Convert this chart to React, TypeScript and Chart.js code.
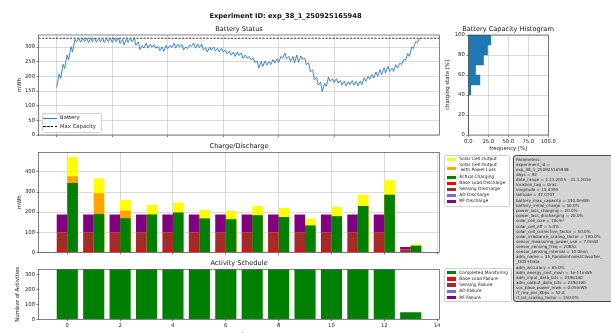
import React, { useEffect, useRef } from 'react';
import { Chart, registerables } from 'chart.js';

Chart.register(...registerables);

const FONT = 'DejaVu Sans';
Chart.defaults.font.family = FONT;

// ---------------- data ----------------
const experimentId = 'exp_38_1_250925165948';
const maxCapacity = 330;

// battery level, one morning low and one afternoon high per day (mWh)
const batteryMorning = [
  162, 193, 227, 256, 284, 318, 316, 318, 315, 318,
  316, 318, 315, 318, 316, 318, 312, 307, 316, 318,
  306, 291, 296, 296, 300, 296, 288, 285, 294, 298,
  296, 300, 290, 295, 302, 296, 298, 290, 283, 290,
  287, 283, 283, 277, 272, 268, 271, 262, 262, 257,
  248, 228, 234, 238, 240, 245, 247, 262, 260, 251,
  246, 248, 258, 240, 216, 188, 170, 148, 166, 183,
  180, 177, 170, 168, 172, 170, 168, 172, 183, 190,
  194, 200, 206, 212, 217, 217, 228, 240, 255, 268,
  295, 315,
];
const batteryAfternoon = [
  208, 241, 273, 301, 326, 330, 330, 330, 330, 330,
  330, 330, 330, 330, 330, 330, 326, 328, 330, 330,
  318, 305, 313, 310, 308, 302, 300, 305, 306, 313,
  310, 308, 300, 307, 313, 310, 310, 298, 300, 300,
  296, 296, 290, 286, 282, 283, 280, 273, 268, 262,
  252, 251, 253, 250, 257, 260, 268, 279, 268, 268,
  273, 270, 262, 246, 222, 196, 180, 176, 197, 192,
  192, 186, 184, 182, 186, 183, 184, 195, 200, 206,
  215, 223, 230, 234, 228, 240, 245, 257, 278, 300,
  319, 330,
];
const batteryDayTicks = [0, 14, 28, 42, 56, 70, 84];
const batteryTicks = [0, 50, 100, 150, 200, 250, 300];

// histogram of charging state
const histBinCenters = [5, 15, 25, 35, 45, 55, 65, 75, 85, 95];
const histFrequency = [0, 0, 0, 0, 3, 14.5, 9, 19, 24, 28];
const histXTicks = [0, 25, 50, 75, 100];
const histYTicks = [0, 20, 40, 60, 80, 100];

// weekly charge / discharge (mWh)
const weeks = [0, 1, 2, 3, 4, 5, 6, 7, 8, 9, 10, 11, 12, 13];
const solarCellOutput = [474, 367, 260, 235, 248, 210, 206, 231, 220, 167, 225, 287, 358, 40];
const solarWithPowerLoss = [379, 294, 208, 188, 198, 168, 165, 185, 176, 134, 180, 230, 286, 32];
const actualCharging = [345, 190, 169, 188, 198, 168, 165, 185, 176, 134, 180, 230, 286, 32];
const baseLoadDischarge = [11, 11, 11, 11, 11, 11, 11, 11, 11, 11, 11, 11, 11, 1.6];
const sensingDischarge = [88.5, 88.5, 88.5, 88.5, 88.5, 88.5, 88.5, 88.5, 88.5, 88.5, 88.5, 88.5, 88.5, 12.6];
const adDischarge = [0, 0, 0, 0, 0, 0, 0, 0, 0, 0, 0, 0, 0, 0];
const rfDischarge = [89, 89, 89, 89, 89, 89, 89, 89, 89, 89, 89, 89, 89, 12.7];
const weekTicks = [0, 2, 4, 6, 8, 10, 12, 14];
const chargeTicks = [0, 100, 200, 300, 400];

// activity schedule
const completedMonitoring = [336, 336, 336, 336, 336, 336, 336, 336, 336, 336, 336, 336, 336, 48];
const baseLoadFailure = [0, 0, 0, 0, 0, 0, 0, 0, 0, 0, 0, 0, 0, 0];
const sensingFailure = [0, 0, 0, 0, 0, 0, 0, 0, 0, 0, 0, 0, 0, 0];
const adFailure = [0, 0, 0, 0, 0, 0, 0, 0, 0, 0, 0, 0, 0, 0];
const rfFailure = [0, 0, 0, 0, 0, 0, 0, 0, 0, 0, 0, 0, 0, 0];
const activityTicks = [0, 100, 200, 300];

const parameterLines = [
  'Parameters:',
  'experiment_id =',
  'exp_38_1_250925165948',
  'days = 92',
  'date_range = 1.11.2015 - 31.1.2016',
  'location_tag = Graz',
  'longitude = 15.4395',
  'latitude = 47.0707',
  'battery_max_capacity = 330.0mWh',
  'battery_initial_charge = 50.0%',
  'power_loss_charging = 20.0%',
  'power_loss_discharging = 20.0%',
  'solar_cell_size = 10cm²',
  'solar_cell_eff = 5.0%',
  'solar_cell_corrective_factor = 50.0%',
  'solar_irradiance_scaling_factor = 100.0%',
  'sensor_measuring_power_use = 7.0mW',
  'sensor_sensing_freq = 20Bhz',
  'sensor_sensing_interval = 10.0min',
  'adm_name = 35_RandomForestClassifier_',
  '_D05+Data',
  'adm_accuracy = 65.0%',
  'adm_energy_cost_mwh = 1e-11mWh',
  'adm_input_data_bits = 2396160',
  'adm_output_data_bits = 2396160',
  'soc_base_power_mwh = 0.05mWh',
  'rf_mw_per_Kbps = 52.8',
  'rf_bit_scaling_factor = 150.0%',
];

// ---------------- styles ----------------
const C = {
  battery: '#2a7abf',
  hist: '#1f77b4',
  solar: '#ffff00',
  solarLoss: '#ffa500',
  charging: '#008000',
  baseLoad: '#ff0000',
  sensing: '#a52a2a',
  ad: '#7b68ee',
  rf: '#800080',
};
const chargeLabels = ['Solar Cell Output', 'Solar Cell Output\n with Power Loss', 'Actual Charging'];
const chargeColors = [C.solar, C.solarLoss, C.charging];
const dischargeLabels = ['Base Load Discharge', 'Sensing Discharge', 'AD Discharge', 'RF Discharge'];
const dischargeColors = [C.baseLoad, C.sensing, C.ad, C.rf];
const activityLabels = ['Completed Monitoring', 'Base Load Failure', 'Sensing Failure', 'AD Failure', 'RF Failure'];
const activityColors = [C.charging, C.baseLoad, C.sensing, C.ad, C.rf];

const CW = 611;
const CH = 345;
const GRID = 'rgba(176,176,176,0.8)';
const SPINE = '#333';
const TICK_FONT = { family: FONT, size: 5.3 };
const LABEL_FONT = { family: FONT, size: 5.4 };
const DAY_MIN = -4.6;
const DAY_MAX = 96.6;
const WEEK_MIN = -1.09;
const WEEK_MAX = 14.09;

const setTicks = (values: number[]) => (scale: any) => {
  scale.ticks = values.map((value) => ({ value }));
};
const fixWidth = (w: number) => (scale: any) => {
  scale.width = w;
};
const fixHeight = (h: number) => (scale: any) => {
  scale.height = h;
};
const gridOpts = (onArea = true) => ({
  display: true,
  drawOnChartArea: onArea,
  color: GRID,
  lineWidth: 0.6,
  drawTicks: true,
  tickLength: 2,
  tickColor: SPINE,
  tickWidth: 0.6,
  offset: false,
});
const tickOpts = (extra: any = {}) => ({ font: TICK_FONT, color: '#222', padding: 1.5, autoSkip: false, maxRotation: 0, ...extra });
const axisTitle = (text: string, padding: any) => ({ display: true, text, font: LABEL_FONT, color: '#1a1a1a', padding });

const framePlugin = {
  id: 'frame',
  afterDraw(chart: any) {
    const { ctx, chartArea: a } = chart;
    ctx.save();
    ctx.strokeStyle = SPINE;
    ctx.lineWidth = 0.6;
    ctx.strokeRect(a.left, a.top, a.right - a.left, a.bottom - a.top);
    ctx.restore();
  },
};

const baseOptions = () => ({
  animation: false,
  responsive: false,
  devicePixelRatio: 1,
  events: [],
  plugins: { legend: { display: false }, tooltip: { enabled: false }, title: { display: false } },
});

function batteryConfig(): any {
  const points: any[] = [];
  batteryMorning.forEach((v, d) => {
    points.push({ x: d, y: v });
    points.push({ x: d + 0.6, y: batteryAfternoon[d] });
  });
  return {
    type: 'line',
    data: {
      datasets: [
        { label: 'Battery', data: points, borderColor: C.battery, borderWidth: 0.9, pointRadius: 0, tension: 0, fill: false },
        {
          label: 'Max Capacity',
          data: [{ x: DAY_MIN, y: maxCapacity }, { x: DAY_MAX, y: maxCapacity }],
          borderColor: '#000',
          borderWidth: 0.8,
          borderDash: [2.2, 1.3],
          pointRadius: 0,
        },
      ],
    },
    options: {
      ...baseOptions(),
      layout: { autoPadding: false, padding: { left: 0, top: 35, right: 171.5, bottom: CH - 135 - 8 } },
      scales: {
        x: {
          type: 'linear', min: DAY_MIN, max: DAY_MAX,
          afterBuildTicks: setTicks(batteryDayTicks), afterFit: fixHeight(8),
          ticks: { display: false }, grid: gridOpts(), border: { display: false },
        },
        y: {
          type: 'linear', min: 0, max: 341,
          afterBuildTicks: setTicks(batteryTicks), afterFit: fixWidth(38.5),
          ticks: tickOpts(), grid: gridOpts(), border: { display: false },
          title: axisTitle('mWh', { top: 16.5, bottom: 0 }),
        },
      },
    },
    plugins: [framePlugin],
  };
}

function histConfig(): any {
  return {
    type: 'bar',
    data: {
      datasets: [{
        label: 'Battery Capacity',
        data: histBinCenters.map((c, i) => ({ y: c, x: histFrequency[i] })),
        backgroundColor: C.hist,
        borderWidth: 0,
      }],
    },
    options: {
      ...baseOptions(),
      indexAxis: 'y',
      datasets: { bar: { categoryPercentage: 1, barPercentage: 1 } },
      layout: { autoPadding: false, padding: { left: 440, top: 35, right: 62.7, bottom: CH - 135 - 20 } },
      scales: {
        x: {
          type: 'linear', min: 0, max: 100,
          afterBuildTicks: setTicks(histXTicks), afterFit: fixHeight(20),
          ticks: tickOpts({ callback: (v: any) => Number(v).toFixed(1) }),
          grid: gridOpts(), border: { display: false },
          title: axisTitle('frequency [%]', { top: 0, bottom: 2.8 }),
        },
        y: {
          type: 'linear', min: 0, max: 100, offset: false,
          afterBuildTicks: setTicks(histYTicks), afterFit: fixWidth(28.3),
          ticks: tickOpts(), grid: gridOpts(), border: { display: false },
          title: axisTitle('charging state [%]', { top: 4.8, bottom: 0 }),
        },
      },
    },
    plugins: [framePlugin],
  };
}

function chargeConfig(): any {
  const cum = weeks.map(() => 0);
  const dischargeSeries = [baseLoadDischarge, sensingDischarge, adDischarge, rfDischarge];
  const dischargeSets = dischargeSeries.map((vals, k) => ({
    label: dischargeLabels[k],
    stack: 'discharge',
    backgroundColor: dischargeColors[k],
    data: weeks.map((w, i) => {
      const a = cum[i];
      cum[i] += vals[i];
      return { x: w, y: [a, cum[i]] };
    }),
  }));
  // charge bars overlap from zero; first listed is drawn on top
  const chargeSeries = [actualCharging, solarWithPowerLoss, solarCellOutput];
  const chargeOrder = [2, 1, 0];
  const chargeSets = chargeSeries.map((vals, k) => ({
    label: chargeLabels[chargeOrder[k]],
    stack: 'charge',
    backgroundColor: chargeColors[chargeOrder[k]],
    data: weeks.map((w, i) => ({ x: w, y: vals[i] })),
  }));
  return {
    type: 'bar',
    data: { datasets: [...dischargeSets, ...chargeSets] },
    options: {
      ...baseOptions(),
      datasets: { bar: { categoryPercentage: 0.8, barPercentage: 1, borderWidth: 0 } },
      layout: { autoPadding: false, padding: { left: 0, top: 152.3, right: 171.5, bottom: CH - 252.3 - 8 } },
      scales: {
        x: {
          type: 'linear', min: WEEK_MIN, max: WEEK_MAX, stacked: true, offset: false,
          afterBuildTicks: setTicks(weekTicks), afterFit: fixHeight(8),
          ticks: { display: false }, grid: gridOpts(), border: { display: false },
        },
        y: {
          type: 'linear', min: 0, max: 497.7, stacked: false,
          afterBuildTicks: setTicks(chargeTicks), afterFit: fixWidth(38.5),
          ticks: tickOpts(), grid: gridOpts(), border: { display: false },
          title: axisTitle('mWh', { top: 16.5, bottom: 0 }),
        },
      },
    },
    plugins: [framePlugin],
  };
}

function activityConfig(): any {
  const series = [completedMonitoring, baseLoadFailure, sensingFailure, adFailure, rfFailure];
  return {
    type: 'bar',
    data: {
      datasets: series.map((vals, k) => ({
        label: activityLabels[k],
        stack: 'activity',
        backgroundColor: activityColors[k],
        data: weeks.map((w, i) => ({ x: w, y: vals[i] })),
      })),
    },
    options: {
      ...baseOptions(),
      datasets: { bar: { categoryPercentage: 0.8, barPercentage: 1, borderWidth: 0 } },
      layout: { autoPadding: false, padding: { left: 0, top: 269.3, right: 171.5, bottom: 0 } },
      scales: {
        x: {
          type: 'linear', min: WEEK_MIN, max: WEEK_MAX, stacked: true, offset: false,
          afterBuildTicks: setTicks(weekTicks), afterFit: fixHeight(CH - 319.3),
          ticks: tickOpts(), grid: gridOpts(false), border: { display: false },
          title: axisTitle('weeks', { top: 0, bottom: 7 }),
        },
        y: {
          type: 'linear', min: 0, max: 336, stacked: true,
          afterBuildTicks: setTicks(activityTicks), afterFit: fixWidth(38.5),
          ticks: tickOpts(), grid: gridOpts(false), border: { display: false },
          title: axisTitle('Number of Activities', { top: 14.5, bottom: 0 }),
        },
      },
    },
    plugins: [framePlugin],
  };
}

// ---------------- html pieces ----------------
function Txt({ x, y, size, weight = 400, children }: any) {
  return (
    <div
      style={{
        position: 'absolute', left: x, top: y, transform: 'translate(-50%, -50%)',
        fontSize: size, fontWeight: weight, color: '#111', whiteSpace: 'nowrap', lineHeight: 1, fontFamily: FONT,
      }}
    >
      {children}
    </div>
  );
}

const legendBox = (left: number, top: number, width: number, height: number): any => ({
  position: 'absolute', left, top, width, height, boxSizing: 'border-box',
  border: '0.6px solid #cfcfcf', borderRadius: 1.5, background: 'rgba(255,255,255,0.85)',
});

function PatchLegend({ labels, colors, rows, box, size }: any) {
  return (
    <>
      <div style={legendBox(box[0], box[1], box[2], box[3])} />
      {labels.map((lab: string, i: number) => (
        <React.Fragment key={lab}>
          <div style={{ position: 'absolute', left: box[0] + 2.7, top: rows[i] - 1.7, width: 9.3, height: 3.4, background: colors[i] }} />
          <div
            style={{
              position: 'absolute', left: box[0] + 15.3, top: rows[i], transform: 'translateY(-50%)',
              fontSize: size, lineHeight: '4.6px', whiteSpace: 'pre', color: '#1a1a1a', fontFamily: FONT,
            }}
          >
            {lab}
          </div>
        </React.Fragment>
      ))}
    </>
  );
}

export default function App() {
  const batteryRef = useRef<HTMLCanvasElement>(null);
  const histRef = useRef<HTMLCanvasElement>(null);
  const chargeRef = useRef<HTMLCanvasElement>(null);
  const activityRef = useRef<HTMLCanvasElement>(null);

  useEffect(() => {
    const charts = [
      new Chart(batteryRef.current as HTMLCanvasElement, batteryConfig()),
      new Chart(histRef.current as HTMLCanvasElement, histConfig()),
      new Chart(chargeRef.current as HTMLCanvasElement, chargeConfig()),
      new Chart(activityRef.current as HTMLCanvasElement, activityConfig()),
    ];
    return () => charts.forEach((c) => c.destroy());
  }, []);

  const canvasStyle: any = { position: 'absolute', left: 0, top: 0, width: CW, height: CH };
  const chargeRows = [159.3, 168.2, 177.3, 183.3, 189.3, 195.3, 201.2];
  const activityRows = [272.7, 278.9, 285.1, 291.3, 297.5];
  const paramGapAfter = [7, 20];

  return (
    <div style={{ position: 'fixed', left: 0, top: 0, width: 611, height: 333, overflow: 'hidden', background: '#fff', fontFamily: FONT }}>
      <canvas ref={batteryRef} width={CW} height={CH} style={canvasStyle} />
      <canvas ref={histRef} width={CW} height={CH} style={canvasStyle} />
      <canvas ref={chargeRef} width={CW} height={CH} style={canvasStyle} />
      <canvas ref={activityRef} width={CW} height={CH} style={canvasStyle} />

      <Txt x={285.5} y={15.7} size={6.7} weight={700}>{`Experiment ID: ${experimentId}`}</Txt>
      <Txt x={239} y={29.3} size={6.6}>Battery Status</Txt>
      <Txt x={508} y={29.3} size={6.6}>Battery Capacity Histogram</Txt>
      <Txt x={239} y={145.7} size={6.6}>Charge/Discharge</Txt>
      <Txt x={239} y={263.3} size={6.6}>Activity Schedule</Txt>

      {/* battery legend */}
      <div style={legendBox(41.7, 113.3, 60, 19.4)} />
      <div style={{ position: 'absolute', left: 43.3, top: 117.9, width: 13.4, height: 0.9, background: C.battery }} />
      <div
        style={{
          position: 'absolute', left: 43.3, top: 126.3, width: 13.4, height: 0.9,
          background: 'repeating-linear-gradient(90deg, #000 0 2.6px, transparent 2.6px 3.9px)',
        }}
      />
      <div style={{ position: 'absolute', left: 60, top: 118.3, transform: 'translateY(-50%)', fontSize: 5.3, lineHeight: 1, color: '#1a1a1a', whiteSpace: 'nowrap' }}>Battery</div>
      <div style={{ position: 'absolute', left: 60, top: 126.7, transform: 'translateY(-50%)', fontSize: 5.3, lineHeight: 1, color: '#1a1a1a', whiteSpace: 'nowrap' }}>Max Capacity</div>

      <PatchLegend
        labels={[...chargeLabels, ...dischargeLabels]}
        colors={[...chargeColors, ...dischargeColors]}
        rows={chargeRows}
        box={[444, 155, 66, 51.5]}
        size={4.4}
      />
      <PatchLegend labels={activityLabels} colors={activityColors} rows={activityRows} box={[444, 268.3, 67.5, 33.4]} size={4.4} />

      {/* parameter box */}
      <div
        style={{
          position: 'absolute', left: 512.7, top: 155, width: 120, height: 146.7, boxSizing: 'border-box',
          background: '#d3d3d3', border: '0.7px solid #4a4a4a', borderRadius: 3,
        }}
      />
      <div style={{ position: 'absolute', left: 516, top: 156.8, fontSize: 4.1, color: '#2a2a2a', whiteSpace: 'nowrap' }}>
        {parameterLines.map((line, i) => (
          <div key={i} style={{ height: 5.02, lineHeight: '5.02px', marginBottom: paramGapAfter.includes(i) ? 1.5 : 0 }}>
            {line}
          </div>
        ))}
      </div>
    </div>
  );
}
